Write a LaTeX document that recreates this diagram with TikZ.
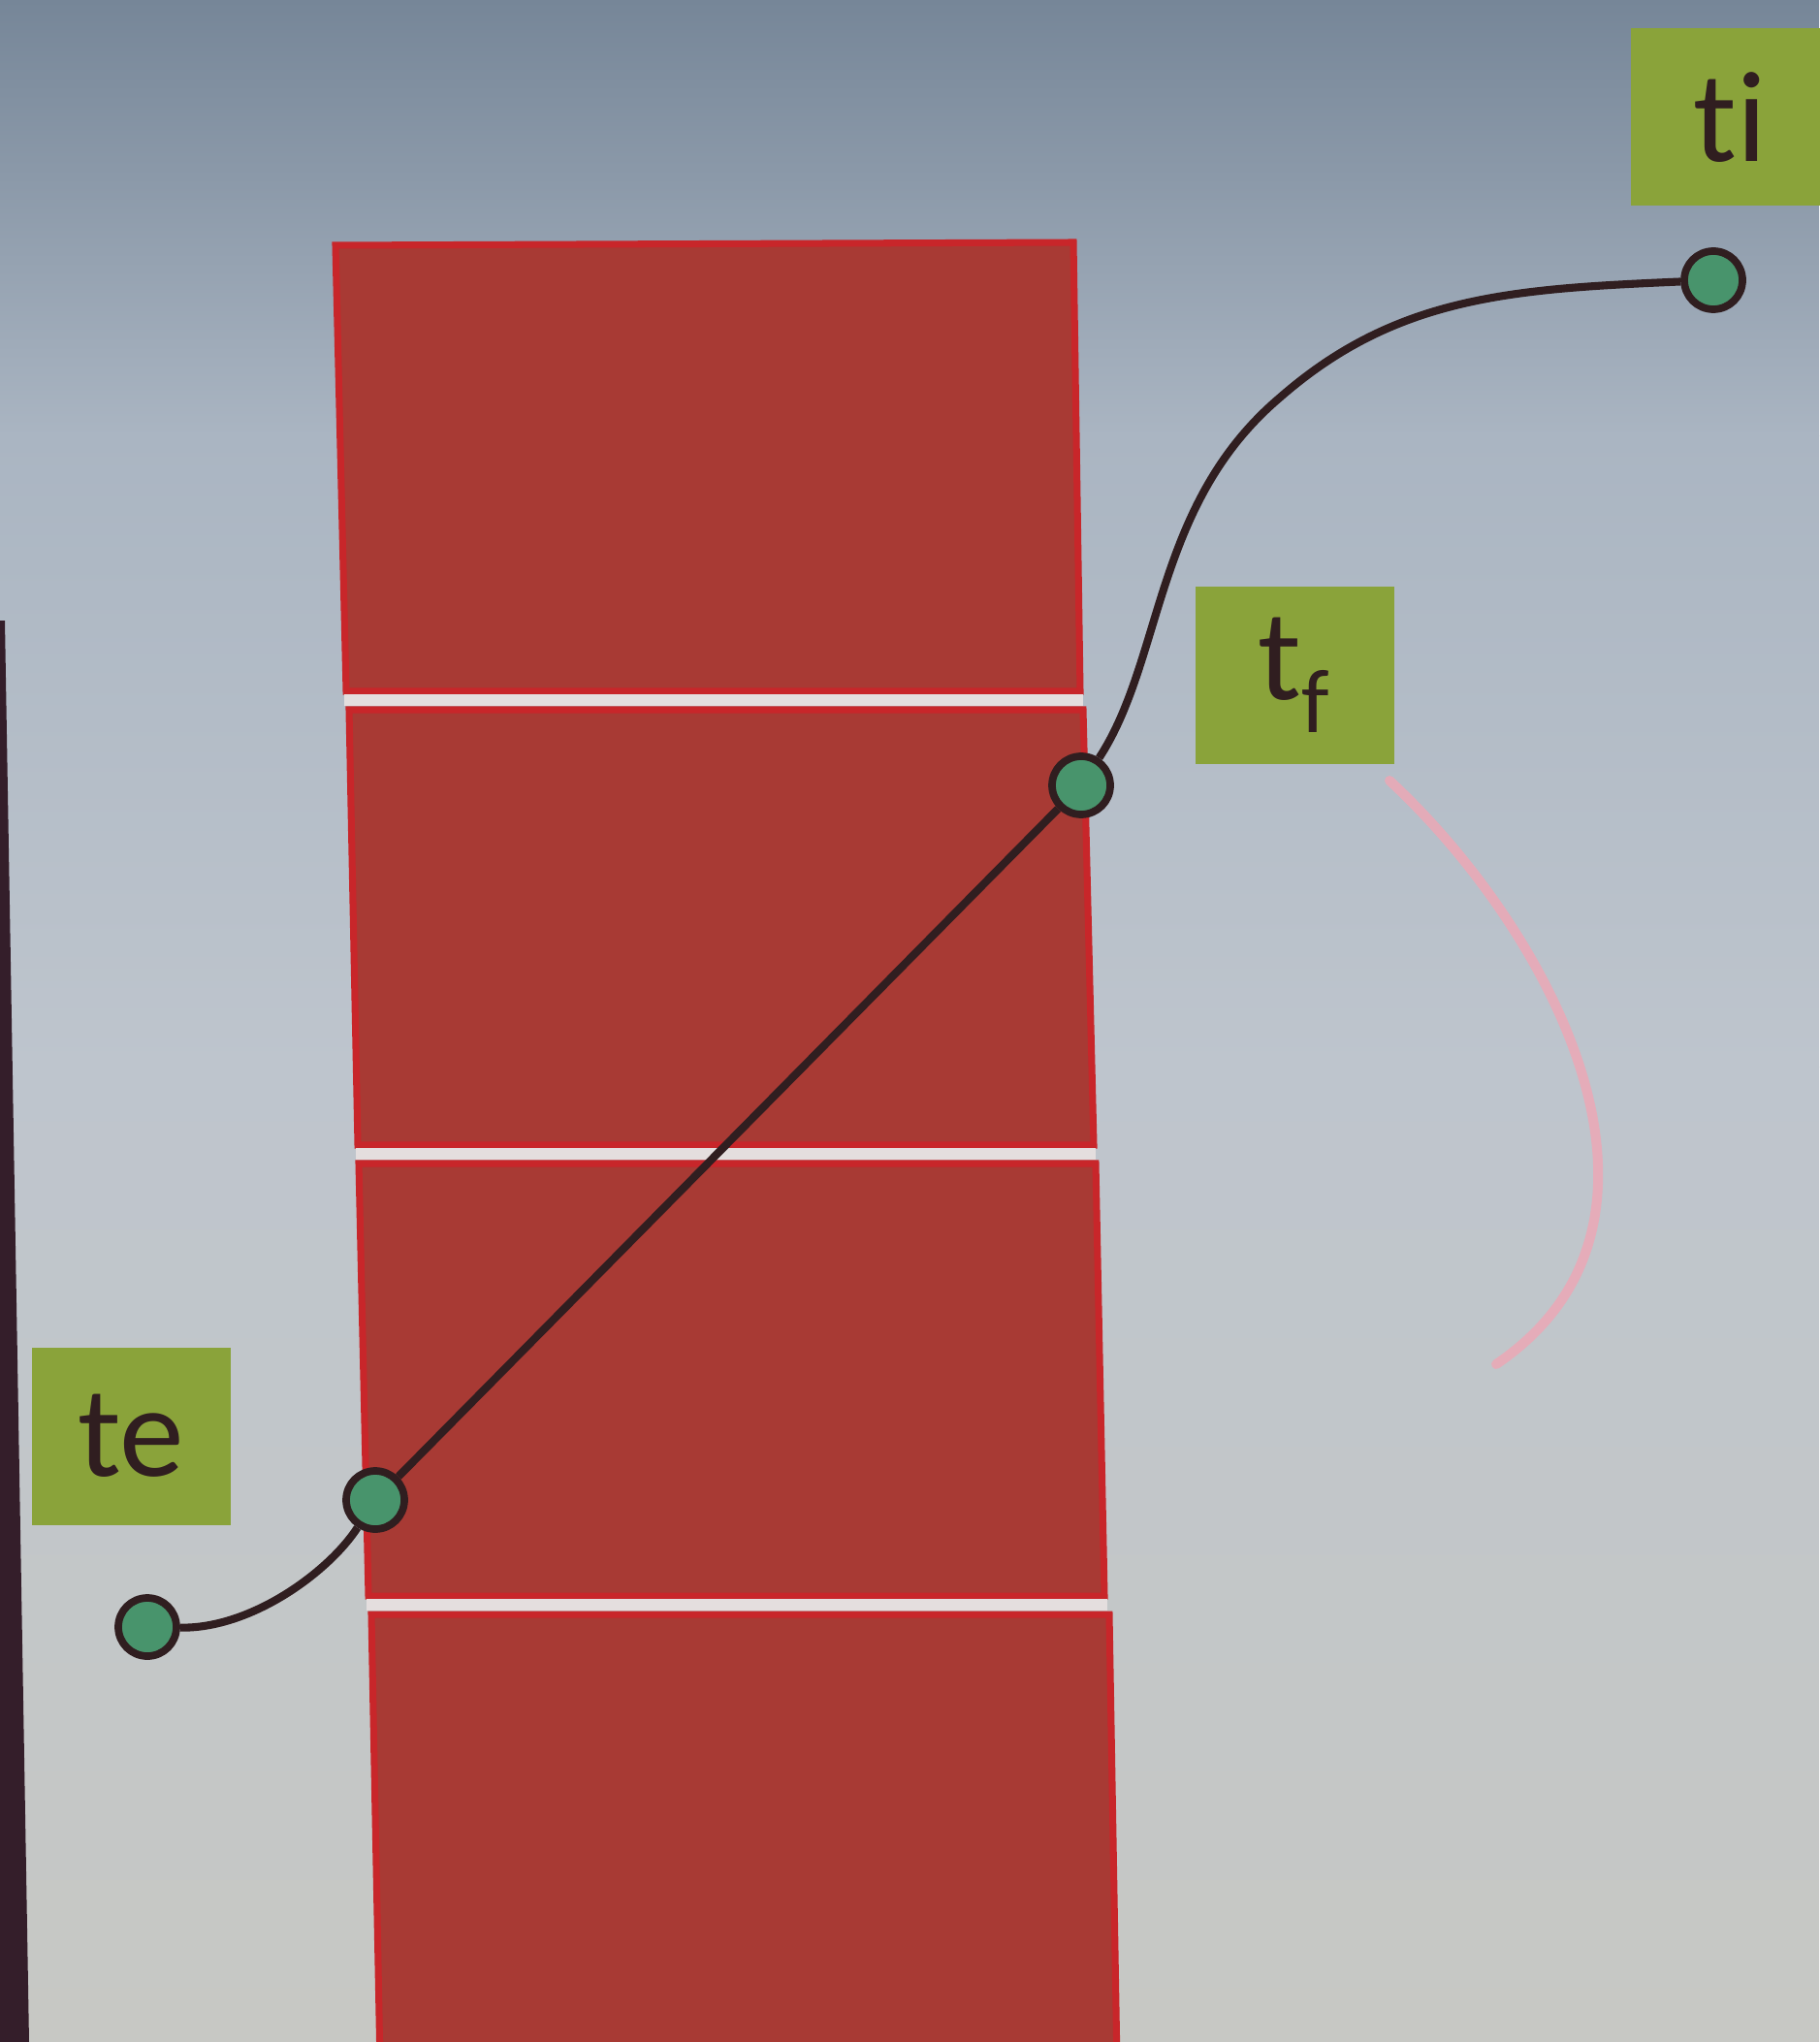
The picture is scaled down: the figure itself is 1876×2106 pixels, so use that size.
\documentclass[tikz,border=0pt]{standalone}
\usepackage{fontspec}
\setmainfont{Carlito}[Ligatures={NoCommon,NoRequired,NoContextual}]
\usepackage{tikz}
\usetikzlibrary{positioning}
\definecolor{slidetop}{RGB}{118,134,152}
\definecolor{slideup}{RGB}{170,181,194}
\definecolor{slidemid}{RGB}{190,197,205}
\definecolor{slidelow}{RGB}{199,200,196}
\definecolor{bezel}{RGB}{52,30,42}
\definecolor{barred}{RGB}{168,58,52}
\definecolor{edgered}{RGB}{200,38,42}
\definecolor{gapwhite}{RGB}{228,222,222}
\definecolor{tagolive}{RGB}{138,163,58}
\definecolor{dotgreen}{RGB}{72,148,108}
\definecolor{wirebrown}{RGB}{48,30,32}
\definecolor{laserpink}{RGB}{236,168,182}

\begin{document}
\begin{tikzpicture}[
			x=0.1mm,y=-0.1mm,
			every node/.style={font=\fontsize{38}{42}\selectfont,text=wirebrown},
			labelbox/.style={fill=tagolive,minimum width=20.5mm,minimum height=18.3mm,inner sep=0pt},
			waypt/.style={circle,draw=wirebrown,line width=2.2pt,fill=dotgreen,minimum size=6mm,inner sep=0pt},
			pathline/.style={draw=wirebrown,line width=2.3pt},
			redbar/.style={fill=barred,draw=edgered,line width=2pt},
			gapline/.style={draw=gapwhite,line width=1.2mm},
			laser/.style={draw=laserpink,line width=1mm,line cap=round,opacity=0.85}
			]
			\useasboundingbox (0,0) rectangle (1876,2106);
			\shade[top color=slidetop,bottom color=slideup] (0,0) rectangle (1876,450);
			\shade[top color=slideup,bottom color=slidemid] (0,450) rectangle (1876,1100);
			\shade[top color=slidemid,bottom color=slidelow] (0,1100) rectangle (1876,2106);
			\fill[bezel] (0,640) -- (5,640) -- (30,2106) -- (0,2106) -- cycle;
			\fill[redbar] (346,253) -- (1107,250) -- (1114,713) -- (357,713) -- cycle;
			\fill[redbar] (360,732) -- (1117,732) -- (1128,1181) -- (369,1181) -- cycle;
			\fill[redbar] (370,1200) -- (1130,1200) -- (1139,1646) -- (380,1646) -- cycle;
			\fill[redbar] (383,1665) -- (1144,1665) -- (1152,2130) -- (392,2130) -- cycle;
			\foreach \gy/\xa/\xb in {722/355/1117,1190/367/1130,1655/378/1142}
				\draw[gapline] (\xa,\gy) -- (\xb,\gy);
			\draw[laser] (1433,805) .. controls (1600,960) and (1760,1260) .. (1543,1407);
			\node[waypt] (wE) at (152,1678) {};
			\node[waypt] (wA) at (387,1547) {};
			\node[waypt] (wF) at (1115,810) {};
			\node[waypt] (wI) at (1767,289) {};
			\node[labelbox] (te) at (135,1481) {te};
			\node[labelbox] (tf) at (1335,696) {t\textsubscript{f}};
			\node[labelbox] (ti) at (1784,121) {ti};
			\draw[pathline] (wE) .. controls (260,1680) and (340,1620) .. (wA);
			\draw[pathline] (wA) -- (wF);
			\draw[pathline] (wF) .. controls (1200,680) and (1190,520) .. (1320,410) .. controls (1440,305) and (1560,298) .. (wI);
		\end{tikzpicture}
\end{document}
